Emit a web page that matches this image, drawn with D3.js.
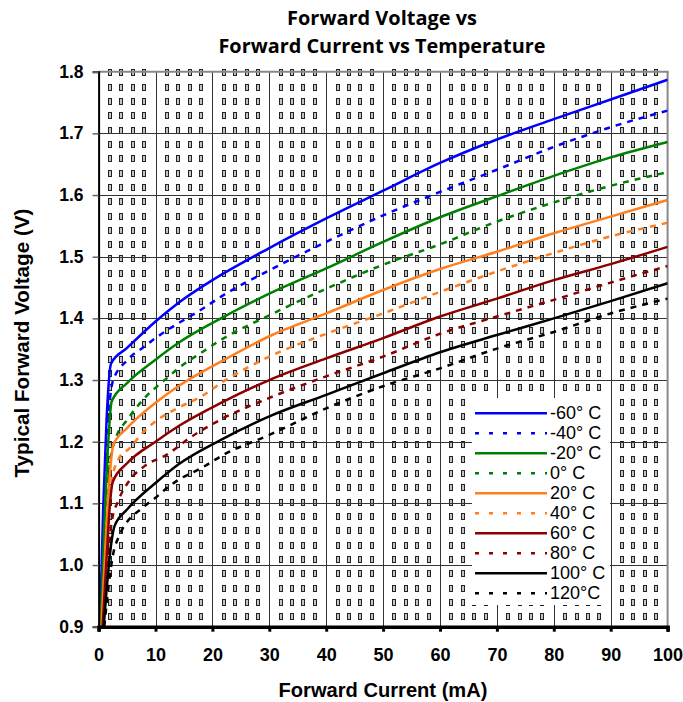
<!DOCTYPE html>
<html><head><meta charset="utf-8">
<script src="https://cdn.jsdelivr.net/npm/d3@7/dist/d3.min.js"></script>
<style>body{margin:0;background:#fff}svg{display:block}</style>
</head><body><svg id="c" width="683" height="702"></svg>
<script>
const seriesNames = ["-60° C","-40° C","-20° C","0° C","20° C","40° C","60° C","80° C","100° C","120°C"];
const seriesColors = ["#0000ff","#0000ff","#008000","#008000","#ff7f1e","#ff7f1e","#8b0000","#8b0000","#000000","#000000"];
const seriesDashed = [false,true,false,true,false,true,false,true,false,true];
const xTicks = [0,10,20,30,40,50,60,70,80,90,100];
const yTicks = [0.9,1.0,1.1,1.2,1.3,1.4,1.5,1.6,1.7,1.8];

const sM60 = [[0.25,0.9],[0.8,1.09],[1.4,1.236],[2.2,1.327],[5,1.352],[10,1.395],[14,1.425],[20,1.462],[30,1.514],[40,1.562],[50,1.607],[60,1.652],[70,1.69],[80,1.723],[90,1.755],[100,1.787]];
const sM40 = [[0.3,0.9],[0.9,1.07],[1.6,1.22],[2.5,1.298],[5,1.332],[8,1.354],[10,1.368],[14,1.392],[18,1.414],[22,1.438],[30,1.478],[40,1.524],[50,1.567],[60,1.605],[70,1.641],[80,1.678],[90,1.71],[100,1.737]];
const sM20 = [[0.35,0.9],[1.0,1.06],[1.7,1.2],[2.3,1.265],[5,1.295],[10,1.333],[14,1.36],[21.5,1.4],[30,1.44],[40,1.481],[50,1.524],[60,1.564],[70,1.598],[80,1.631],[90,1.661],[100,1.686]];
const s0 = [[0.45,0.9],[1.1,1.04],[1.9,1.16],[3,1.205],[5,1.235],[8,1.27],[12,1.303],[14,1.319],[18,1.344],[21.5,1.365],[30,1.405],[40,1.448],[50,1.487],[60,1.52],[70,1.557],[80,1.588],[90,1.615],[100,1.637]];
const s20 = [[0.5,0.9],[1.2,1.03],[2.0,1.15],[2.6,1.195],[5,1.222],[10,1.263],[14,1.29],[21.5,1.33],[30,1.371],[40,1.408],[50,1.446],[60,1.48],[70,1.508],[80,1.538],[90,1.565],[100,1.592]];
const s40 = [[0.6,0.9],[1.3,1.02],[2.2,1.13],[3.5,1.172],[5.5,1.19],[8,1.217],[10,1.233],[14,1.255],[18,1.273],[21.5,1.295],[30,1.338],[40,1.375],[50,1.408],[60,1.443],[70,1.476],[80,1.506],[90,1.533],[100,1.555]];
const s60 = [[0.7,0.9],[1.4,1.01],[2.0,1.1],[2.5,1.135],[5,1.165],[10,1.2],[14,1.225],[21.5,1.263],[30,1.3],[40,1.335],[50,1.368],[60,1.403],[70,1.432],[80,1.462],[90,1.488],[100,1.516]];
const s80 = [[0.8,0.9],[1.5,0.99],[2.3,1.07],[3.5,1.105],[5.5,1.138],[8,1.16],[12,1.179],[16,1.206],[21.5,1.236],[30,1.271],[40,1.306],[50,1.338],[60,1.375],[70,1.403],[80,1.43],[90,1.458],[100,1.485]];
const s100 = [[0.9,0.9],[1.6,0.98],[2.3,1.04],[2.8,1.063],[5,1.09],[10,1.133],[14,1.163],[21.5,1.203],[30,1.241],[40,1.276],[50,1.311],[60,1.345],[70,1.373],[80,1.4],[90,1.428],[100,1.457]];
const s120 = [[1.0,0.9],[1.8,0.97],[2.5,1.015],[3.5,1.045],[8,1.095],[10,1.109],[12,1.125],[14,1.138],[18,1.157],[22,1.179],[30,1.211],[40,1.254],[50,1.29],[60,1.319],[70,1.351],[80,1.378],[90,1.408],[100,1.432]];
const seriesValues = [sM60,sM40,sM20,s0,s20,s40,s60,s80,s100,s120];

const svg = d3.select("#c");
const L=98.6, R=667.6, T=71.7, B=626.7;
const x = d3.scaleLinear([0,100],[L,R]);
const y = d3.scaleLinear([0.9,1.8],[B,T]);

function fit(sel, w){
  const n = sel.node(); const fs = +sel.attr("font-size");
  const cur = n.getComputedTextLength();
  if (cur>0) sel.attr("font-size", (fs*w/cur).toFixed(2));
  return sel;
}

// background pattern marks
const pat = svg.append("g");
const colVals = d3.range(2,100,2).filter(v=>v%10!==0);
const rowYs = d3.range(0,39).map(j=>72.4+14.31*j);
const cells=[];
colVals.forEach(c=>rowYs.forEach(r=>cells.push([x(c),r])));
pat.selectAll("rect").data(cells).join("rect")
  .attr("x",d=>Math.round(d[0])-1.5).attr("y",d=>Math.round(d[1])-2.5).attr("width",3).attr("height",6)
  .attr("fill","#c4c4c4").attr("stroke","#222").attr("stroke-width",1);

// grid
const grid = svg.append("g").attr("stroke","#333").attr("stroke-width",1);
grid.selectAll("line.v").data(xTicks.slice(1,-1)).join("line").attr("class","v")
  .attr("x1",d=>Math.round(x(d))+0.5).attr("x2",d=>Math.round(x(d))+0.5).attr("y1",T).attr("y2",B);
grid.selectAll("line.h").data(yTicks.slice(1,-1)).join("line").attr("class","h")
  .attr("y1",d=>Math.round(y(d))+0.5).attr("y2",d=>Math.round(y(d))+0.5).attr("x1",L).attr("x2",R);

// frame top/right
svg.append("line").attr("x1",L).attr("x2",R+1).attr("y1",T).attr("y2",T).attr("stroke","#888").attr("stroke-width",2);
svg.append("line").attr("x1",R).attr("x2",R).attr("y1",T).attr("y2",B).attr("stroke","#888").attr("stroke-width",2);

// lines
svg.append("clipPath").attr("id","clip").append("rect").attr("x",L).attr("y",T).attr("width",R-L).attr("height",B-T);
const line = d3.line().x(d=>x(d[0])).y(d=>y(d[1])).curve(d3.curveMonotoneX);
const lg = svg.append("g").attr("clip-path","url(#clip)");
seriesValues.forEach((s,i)=>{
  lg.append("path").attr("d",line(s)).attr("fill","none")
    .attr("stroke",seriesColors[i]).attr("stroke-width",2.5)
    .attr("stroke-dasharray",seriesDashed[i]?"6,6":null);
});

// axes
const yAxis = d3.axisLeft(y).tickValues(yTicks).tickFormat(d3.format(".1f")).tickSize(6).tickPadding(9);
const ga = svg.append("g").attr("transform",`translate(${L},0)`).call(yAxis);
ga.select(".domain").attr("stroke","#000").attr("stroke-width",2);
ga.selectAll(".tick line").attr("stroke","#666").attr("stroke-width",1.5);
ga.selectAll("text").attr("font-family","Liberation Sans, Arial, sans-serif").attr("font-weight","bold").attr("font-size",17.5).attr("fill","#000");

const xAxis = d3.axisBottom(x).tickValues(xTicks).tickSize(5).tickPadding(17);
const gx = svg.append("g").attr("transform",`translate(0,${B})`).call(xAxis);
gx.select(".domain").attr("stroke","#000").attr("stroke-width",3.5);
gx.selectAll(".tick line").attr("stroke","#000").attr("stroke-width",3);
gx.selectAll("text").attr("font-family","Liberation Sans, Arial, sans-serif").attr("font-weight","bold").attr("font-size",18).attr("fill","#000");

// titles
const tf = "'Open Sans', Lato, sans-serif";
fit(svg.append("text").attr("x",382).attr("y",17).attr("text-anchor","middle").attr("dominant-baseline","central")
  .attr("font-family",tf).attr("font-weight","bold").attr("font-size",17).text("Forward Voltage vs"), 190);
fit(svg.append("text").attr("x",382).attr("y",45).attr("text-anchor","middle").attr("dominant-baseline","central")
  .attr("font-family",tf).attr("font-weight","bold").attr("font-size",17).text("Forward Current vs Temperature"), 327);
fit(svg.append("text").attr("x",383).attr("y",690).attr("text-anchor","middle").attr("dominant-baseline","central")
  .attr("font-family","Liberation Sans, Arial, sans-serif").attr("font-weight","bold").attr("font-size",17).text("Forward Current (mA)"), 209);
fit(svg.append("text").attr("transform","translate(21,343) rotate(-90)").attr("text-anchor","middle").attr("dominant-baseline","central")
  .attr("font-family","Liberation Sans, Arial, sans-serif").attr("font-weight","bold").attr("font-size",17).text("Typical Forward Voltage (V)"), 269);

// legend
const leg = svg.append("g");
leg.append("rect").attr("x",472).attr("y",398).attr("width",138).attr("height",207).attr("fill","#fff");
seriesNames.forEach((n,i)=>{
  const yy = 413.3+20*i;
  leg.append("line").attr("x1",475).attr("x2",547).attr("y1",yy).attr("y2",yy)
    .attr("stroke",seriesColors[i]).attr("stroke-width",2.5).attr("stroke-dasharray",seriesDashed[i]?"4,10":null);
  leg.append("text").attr("x",550).attr("y",yy).attr("dominant-baseline","central")
    .attr("font-family","Liberation Sans, Arial, sans-serif").attr("font-size",18).text(n);
});
</script></body></html>
